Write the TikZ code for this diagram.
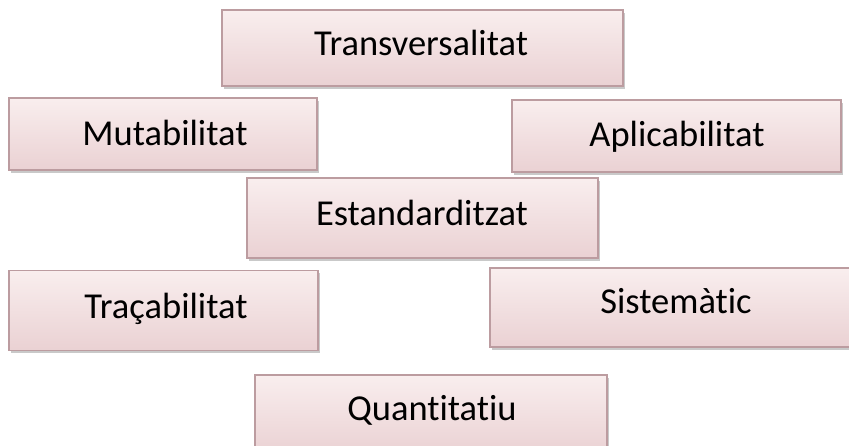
\documentclass[tikz,border=0pt]{standalone}
\usepackage{fontspec}
\setmainfont{Carlito}[Ligatures={NoCommon}]
\usetikzlibrary{shadows}
\definecolor{boxtop}{RGB}{249,238,238}
\definecolor{boxbot}{RGB}{234,209,211}
\definecolor{boxline}{RGB}{188,156,160}
\tikzset{
  pinkbox/.style={draw=boxline, line width=1.1pt, rectangle, inner sep=0pt,
    top color=boxtop, bottom color=boxbot,
    drop shadow={shadow xshift=1.5pt, shadow yshift=-2.5pt, opacity=0.35, fill=black!60}},
  boxtext/.style={anchor=base, inner sep=0pt, font=\fontsize{36.5}{40}\selectfont, text=black}
}
\begin{document}
\begin{tikzpicture}[x=1pt,y=-1pt]
\clip (0,0) rectangle (849,445);
\fill[white] (0,0) rectangle (849,445);
\node[pinkbox, minimum width=401pt, minimum height=76pt] (trans) at (422.5,48) {};
\node[pinkbox, minimum width=308pt, minimum height=72pt] (muta) at (163,134) {};
\node[pinkbox, minimum width=329pt, minimum height=72pt] (apli) at (676.5,136) {};
\node[pinkbox, minimum width=351pt, minimum height=80pt] (esta) at (422.5,218) {};
\node[pinkbox, minimum width=309pt, minimum height=80pt] (traca) at (163.5,310.5) {};
\node[pinkbox, minimum width=372pt, minimum height=79pt] (siste) at (676,307.5) {};
\node[pinkbox, minimum width=352pt, minimum height=80pt] (quant) at (431,415) {};
\node[boxtext] (transT) at (421,55) {Transversalitat};
\node[boxtext] (mutaT) at (165,145) {Mutabilitat};
\node[boxtext] (apliT) at (677,146) {Aplicabilitat};
\node[boxtext] (estaT) at (422,225) {Estandarditzat};
\node[boxtext] (tracaT) at (166,318) {Traçabilitat};
\node[boxtext] (sisteT) at (676,313) {Sistemàtic};
\node[boxtext] (quantT) at (432,420) {Quantitatiu};
\end{tikzpicture}
\end{document}
